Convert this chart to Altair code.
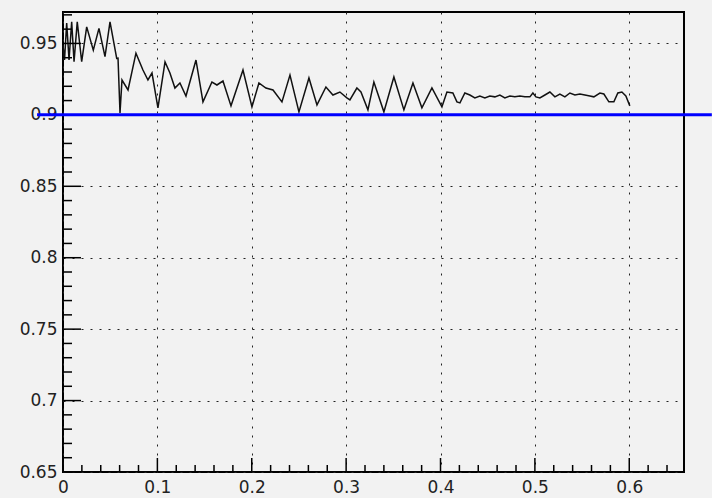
import altair as alt
import pandas as pd

# ---- data ----
curve_x = [0.0000, 0.0016, 0.0039, 0.0064, 0.0092, 0.0117, 0.0151, 0.0198, 0.0251, 0.0321,
           0.0381, 0.0445, 0.0498, 0.0569, 0.0583, 0.0604, 0.0625, 0.0689, 0.0773, 0.0847,
           0.0900, 0.0943, 0.1006, 0.1081, 0.1133, 0.1186, 0.1239, 0.1303, 0.1409, 0.1483,
           0.1578, 0.1631, 0.1695, 0.1780, 0.1907, 0.2002, 0.2076, 0.2150, 0.2225, 0.2320,
           0.2405, 0.2500, 0.2606, 0.2691, 0.2786, 0.2860, 0.2934, 0.3008, 0.3040, 0.3114,
           0.3157, 0.3231, 0.3294, 0.3400, 0.3506, 0.3612, 0.3708, 0.3803, 0.3909, 0.4015,
           0.4068, 0.4131, 0.4174, 0.4206, 0.4258, 0.4311, 0.4364, 0.4417, 0.4470, 0.4523,
           0.4576, 0.4629, 0.4682, 0.4735, 0.4788, 0.4841, 0.4894, 0.4947, 0.4979, 0.5011,
           0.5053, 0.5106, 0.5159, 0.5212, 0.5265, 0.5318, 0.5371, 0.5424, 0.5477, 0.5530,
           0.5583, 0.5625, 0.5689, 0.5731, 0.5784, 0.5837, 0.5879, 0.5922, 0.5964, 0.6006]
curve_y = [0.9488, 0.9384, 0.9642, 0.9384, 0.9651, 0.9372, 0.9651, 0.9372, 0.9616, 0.9453,
           0.9605, 0.9407, 0.9651, 0.9395, 0.9397, 0.9014, 0.9244, 0.9174, 0.9432, 0.9314,
           0.9244, 0.9293, 0.9049, 0.9370, 0.9293, 0.9188, 0.9223, 0.9132, 0.9384, 0.9091,
           0.9230, 0.9209, 0.9237, 0.9063, 0.9314, 0.9056, 0.9223, 0.9188, 0.9174, 0.9091,
           0.9279, 0.9021, 0.9258, 0.9070, 0.9195, 0.9139, 0.9160, 0.9119, 0.9105, 0.9188,
           0.9160, 0.9035, 0.9230, 0.9021, 0.9265, 0.9035, 0.9223, 0.9049, 0.9188, 0.9056,
           0.9160, 0.9153, 0.9091, 0.9084, 0.9153, 0.9139, 0.9119, 0.9132, 0.9119, 0.9132,
           0.9126, 0.9139, 0.9119, 0.9132, 0.9126, 0.9132, 0.9126, 0.9126, 0.9153, 0.9126,
           0.9119, 0.9139, 0.9160, 0.9126, 0.9146, 0.9126, 0.9153, 0.9139, 0.9146, 0.9139,
           0.9132, 0.9126, 0.9153, 0.9146, 0.9091, 0.9091, 0.9153, 0.9160, 0.9132, 0.9063]

ref_level = [0.9, 0.9]
ref_x = [-0.0275, 0.6875]

x_major = [0.0, 0.1, 0.2, 0.3, 0.4, 0.5, 0.6]
x_minor = [0.02, 0.04, 0.06, 0.08, 0.12, 0.14, 0.16, 0.18, 0.22, 0.24, 0.26, 0.28,
           0.32, 0.34, 0.36, 0.38, 0.42, 0.44, 0.46, 0.48, 0.52, 0.54, 0.56, 0.58,
           0.62, 0.64]
y_major = [0.65, 0.70, 0.75, 0.80, 0.85, 0.90, 0.95]
y_minor = [0.66, 0.67, 0.68, 0.69, 0.71, 0.72, 0.73, 0.74, 0.76, 0.77, 0.78, 0.79,
           0.81, 0.82, 0.83, 0.84, 0.86, 0.87, 0.88, 0.89, 0.91, 0.92, 0.93, 0.94,
           0.96, 0.97]

X_DOMAIN = [0.0, 0.658]
Y_DOMAIN = [0.65, 0.972]

W, H = 621, 460
FONT = "DejaVu Sans"

xs = alt.Scale(domain=X_DOMAIN, nice=False, zero=False)
ys = alt.Scale(domain=Y_DOMAIN, nice=False, zero=False)

curve_df = pd.DataFrame({"x": curve_x, "y": curve_y})
ref_df = pd.DataFrame({"x": ref_x, "y": ref_level})

x_axis = alt.Axis(values=x_major, labelExpr="datum.value == 0 ? '0' : format(datum.value, '.1f')",
                  title=None, ticks=False, domain=False, grid=True,
                  gridDash=[2, 7], gridColor="#222222", gridWidth=1,
                  labelFont=FONT, labelFontSize=17, labelColor="#222222",
                  labelPadding=7, labelFlush=False, labelOverlap=False)
y_axis = alt.Axis(values=y_major, labelExpr="format(datum.value, '~g')",
                  title=None, ticks=False, domain=False, grid=True,
                  gridDash=[2, 7], gridColor="#222222", gridWidth=1,
                  labelFont=FONT, labelFontSize=17, labelColor="#222222",
                  labelPadding=6, labelFlush=False, labelOverlap=False)


def X(field):
    return alt.X(f"{field}:Q", scale=xs, axis=x_axis, title=None)


def Y(field):
    return alt.Y(f"{field}:Q", scale=ys, axis=y_axis, title=None)


curve = alt.Chart(curve_df).mark_line(color="#111111", strokeWidth=1.5).encode(
    x=X("x"), y=Y("y"), order="x:Q",
)

ref = alt.Chart(ref_df).mark_line(color="#0000ff", strokeWidth=3, clip=False).encode(
    x=X("x"), y=Y("y"),
)

ymaj = alt.Chart(pd.DataFrame({"v": y_major})).mark_rule(color="black", strokeWidth=1.5).encode(
    y=Y("v"), x=alt.value(0), x2=alt.value(18))
ymin = alt.Chart(pd.DataFrame({"v": y_minor})).mark_rule(color="black", strokeWidth=1.5).encode(
    y=Y("v"), x=alt.value(0), x2=alt.value(9))
xmaj = alt.Chart(pd.DataFrame({"v": x_major})).mark_rule(color="black", strokeWidth=1.5).encode(
    x=X("v"), y=alt.value(H), y2=alt.value(H - 14))
xmin = alt.Chart(pd.DataFrame({"v": x_minor})).mark_rule(color="black", strokeWidth=1.5).encode(
    x=X("v"), y=alt.value(H), y2=alt.value(H - 7))

chart = alt.layer(curve, ymaj, ymin, xmaj, xmin, ref).properties(
    width=W, height=H,
    autosize=alt.AutoSizeParams(type="none"),
    padding={"left": 63, "top": 12, "right": 28, "bottom": 26},
    background="#f2f2f2",
).configure_view(
    stroke="black", strokeWidth=2, fill="#f2f2f2"
)

chart.save("out.html", embed_options={"renderer": "svg", "actions": False})
